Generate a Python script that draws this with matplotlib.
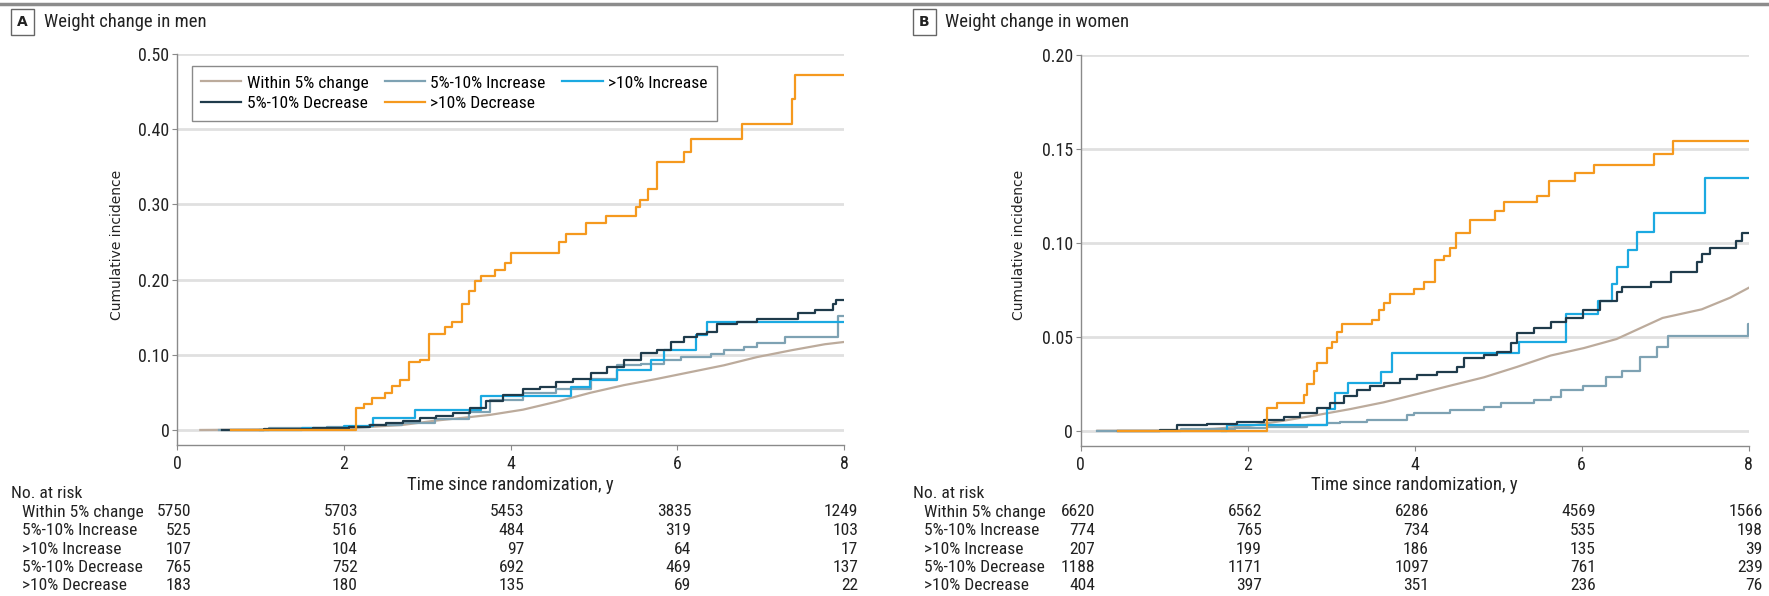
import matplotlib
matplotlib.use('Agg')
import matplotlib.pyplot as plt
from matplotlib import font_manager
from matplotlib.transforms import blended_transform_factory
from matplotlib.lines import Line2D

# ---------------- font choice (prefer a condensed face) ----------------
_fl = font_manager.fontManager.ttflist
_names = {f.name for f in _fl}
FAM, STRETCH = 'DejaVu Sans', 'normal'
for cand in ['Liberation Sans Narrow', 'Roboto Condensed', 'Open Sans Condensed']:
    if cand in _names:
        FAM = cand
        break
else:
    cond = [f for f in _fl if f.name == 'DejaVu Sans' and str(f.stretch) not in ('normal', '500')]
    if cond:
        FAM, STRETCH = 'DejaVu Sans', cond[0].stretch
    elif 'Roboto' in _names:
        FAM = 'Roboto'
plt.rcParams['font.family'] = [FAM, 'DejaVu Sans']
plt.rcParams['font.stretch'] = STRETCH

# ---------------- data ----------------
series_names = ['Within 5% change', '5%-10% Increase', '>10% Increase',
                '5%-10% Decrease', '>10% Decrease']
risk_times = [0, 2, 4, 6, 8]

# Men
men_within_t = [0.28, 1.0, 1.5, 2.0, 2.3, 2.7, 3.1, 3.5, 3.75, 4.15, 4.55, 4.96, 5.36, 5.76, 6.16, 6.56, 6.96, 7.37, 7.77, 8.0]
men_within_v = [0, 0.0005, 0.001, 0.002, 0.004, 0.0066, 0.0124, 0.017, 0.020, 0.027, 0.0375, 0.0495, 0.0596, 0.068, 0.077, 0.086, 0.097, 0.106, 0.114, 0.117]

men_inc5_t = [0.5, 1.1, 1.8, 2.3, 2.7, 3.1, 3.5, 3.75, 4.15, 4.55, 4.96, 5.28, 5.56, 5.84, 6.04, 6.40, 6.56, 6.80, 6.96, 7.29, 7.93, 8.0]
men_inc5_v = [0, 0.002, 0.004, 0.006, 0.009, 0.015, 0.024, 0.04, 0.0486, 0.055, 0.068, 0.086, 0.088, 0.093, 0.097, 0.1015, 0.106, 0.11, 0.115, 0.124, 0.152, 0.152]

men_inc10_t = [1.0, 1.5, 2.0, 2.35, 2.85, 3.65, 4.73, 4.95, 5.28, 5.68, 5.84, 6.22, 6.36, 8.0]
men_inc10_v = [0, 0.002, 0.005, 0.016, 0.027, 0.045, 0.057, 0.067, 0.08, 0.093, 0.106, 0.126, 0.144, 0.144]

men_dec5_t = [0.54, 1.04, 1.63, 2.06, 2.31, 2.51, 2.71, 2.91, 3.11, 3.31, 3.51, 3.71, 3.91, 4.15, 4.35, 4.55, 4.75, 4.96, 5.16, 5.36, 5.56, 5.76, 5.92, 6.08, 6.24, 6.36, 6.48, 6.72, 6.96, 7.45, 7.65, 7.87, 7.91, 8.0]
men_dec5_v = [0, 0.001, 0.003, 0.004, 0.0066, 0.0097, 0.012, 0.0155, 0.019, 0.022, 0.029, 0.038, 0.047, 0.054, 0.057, 0.064, 0.068, 0.076, 0.084, 0.093, 0.102, 0.106, 0.117, 0.124, 0.128, 0.13, 0.141, 0.143, 0.148, 0.155, 0.159, 0.168, 0.173, 0.173]

men_dec10_t = [0.65, 2.15, 2.24, 2.34, 2.5, 2.58, 2.68, 2.78, 2.92, 3.02, 3.22, 3.3, 3.42, 3.5, 3.58, 3.65, 3.82, 3.93, 4.01, 4.58, 4.66, 4.9, 5.15, 5.5, 5.55, 5.65, 5.76, 6.08, 6.17, 6.78, 7.38, 7.41, 8.0]
men_dec10_v = [0, 0.029, 0.034, 0.043, 0.049, 0.058, 0.067, 0.091, 0.093, 0.128, 0.137, 0.144, 0.168, 0.185, 0.198, 0.205, 0.213, 0.222, 0.235, 0.25, 0.26, 0.275, 0.285, 0.297, 0.306, 0.32, 0.356, 0.37, 0.387, 0.407, 0.44, 0.472, 0.472]

men_risk = [[5750, 5703, 5453, 3835, 1249],
            [525, 516, 484, 319, 103],
            [107, 104, 97, 64, 17],
            [765, 752, 692, 469, 137],
            [183, 180, 135, 69, 22]]

# Women
wom_within_t = [0.2, 1.0, 1.6, 2.03, 2.43, 2.83, 3.23, 3.63, 4.03, 4.43, 4.83, 5.23, 5.63, 6.03, 6.42, 6.97, 7.44, 7.78, 8.0]
wom_within_v = [0, 0.0, 0.001, 0.0026, 0.0053, 0.0083, 0.0115, 0.0151, 0.0195, 0.024, 0.0284, 0.034, 0.040, 0.044, 0.0488, 0.060, 0.0646, 0.0708, 0.076]

wom_inc5_t = [0.2, 1.2, 1.85, 2.23, 2.71, 2.95, 3.11, 3.43, 3.91, 3.99, 4.43, 4.83, 5.03, 5.43, 5.63, 5.75, 6.02, 6.29, 6.49, 6.7, 6.9, 7.04, 7.99, 8.0]
wom_inc5_v = [0, 0.0008, 0.0012, 0.0021, 0.003, 0.0042, 0.0048, 0.0057, 0.0083, 0.0092, 0.011, 0.0128, 0.0145, 0.0163, 0.018, 0.0215, 0.024, 0.0285, 0.032, 0.039, 0.0444, 0.0505, 0.0567, 0.0567]

wom_inc10_t = [1.69, 1.75, 2.95, 3.05, 3.2, 3.6, 3.73, 5.25, 5.81, 6.2, 6.36, 6.42, 6.56, 6.66, 6.87, 7.48, 8.0]
wom_inc10_v = [0, 0.003, 0.0115, 0.02, 0.0252, 0.0314, 0.0415, 0.047, 0.062, 0.069, 0.078, 0.087, 0.096, 0.106, 0.116, 0.1345, 0.1345]

wom_dec5_t = [0.45, 0.95, 1.15, 1.51, 1.87, 2.19, 2.43, 2.63, 2.83, 2.99, 3.15, 3.31, 3.47, 3.63, 3.83, 4.03, 4.27, 4.51, 4.59, 4.83, 4.99, 5.15, 5.23, 5.43, 5.63, 5.81, 6.02, 6.22, 6.42, 6.49, 6.83, 7.07, 7.38, 7.44, 7.54, 7.85, 7.92, 8.0]
wom_dec5_v = [0, 0.0005, 0.0028, 0.0037, 0.0044, 0.0058, 0.0073, 0.0094, 0.012, 0.0147, 0.0182, 0.0218, 0.024, 0.0252, 0.0273, 0.0296, 0.0314, 0.034, 0.0385, 0.0403, 0.042, 0.0465, 0.052, 0.0549, 0.0576, 0.060, 0.064, 0.069, 0.074, 0.0763, 0.079, 0.0843, 0.0897, 0.094, 0.097, 0.101, 0.105, 0.105]

wom_dec10_t = [0.45, 2.23, 2.35, 2.67, 2.71, 2.79, 2.83, 2.95, 3.01, 3.07, 3.13, 3.49, 3.57, 3.63, 3.71, 3.99, 4.11, 4.25, 4.35, 4.42, 4.49, 4.66, 4.96, 5.07, 5.47, 5.61, 5.92, 6.15, 6.87, 7.10, 8.0]
wom_dec10_v = [0, 0.012, 0.0146, 0.019, 0.025, 0.032, 0.036, 0.044, 0.047, 0.0525, 0.057, 0.059, 0.0645, 0.068, 0.073, 0.0756, 0.079, 0.0906, 0.0932, 0.097, 0.105, 0.112, 0.117, 0.122, 0.125, 0.133, 0.137, 0.1416, 0.1475, 0.154, 0.154]

wom_risk = [[6620, 6562, 6286, 4569, 1566],
            [774, 765, 734, 535, 198],
            [207, 199, 186, 135, 39],
            [1188, 1171, 1097, 761, 239],
            [404, 397, 351, 236, 76]]

men_yticks = [0, 0.10, 0.20, 0.30, 0.40, 0.50]
men_ytick_labels = ['0', '0.10', '0.20', '0.30', '0.40', '0.50']
wom_yticks = [0, 0.05, 0.10, 0.15, 0.20]
wom_ytick_labels = ['0', '0.05', '0.10', '0.15', '0.20']
xticks = [0, 2, 4, 6, 8]

colors = ['#bcab9c', '#7ea2b3', '#1ba9e1', '#1f3b4b', '#f5991e']

# ---------------- figure ----------------
W, H = 1769, 596
fig = plt.figure(figsize=(W / 100, H / 100), dpi=100)
TXT = '#222222'
SPINE = '#8a8a8a'
_renderer = fig.canvas.get_renderer()


def fit_size(s, target_px, base=12.0, lo=8.0, hi=14.0):
    t = fig.text(0, 0, s, fontsize=base)
    w = t.get_window_extent(renderer=_renderer).width
    t.remove()
    return max(lo, min(hi, base * target_px / max(w, 1)))


FS_TAB = fit_size('Within 5% change', 121)
FS_TITLE = fit_size('Weight change in men', 162)
FS_XLAB = fit_size('Time since randomization, y', 206)
FS_TICK = fit_size('0.50', 31)

fig.add_artist(Line2D([0, 1], [1 - 3.5 / H] * 2, transform=fig.transFigure,
                      color='#8c8c8c', lw=2.5))


def make_panel(left_px, right_px, top_px, bot_px, ylim, yticks, ylabels,
               curves, risk, letter, title, box_px, title_px, ylab_px,
               noat_px, rowlab_px, legend=False):
    ax = fig.add_axes([left_px / W, 1 - bot_px / H, (right_px - left_px) / W,
                       (bot_px - top_px) / H])
    ax.set_xlim(0, 8)
    ax.set_ylim(*ylim)
    for y in yticks:
        ax.plot([0, 8], [y, y], color='#e0e0e0', lw=2, zorder=0, solid_capstyle='butt')
    handles = {}
    for i, (t, v) in enumerate(curves):
        if i == 0:
            h, = ax.plot(t, v, color=colors[i], lw=1.6, zorder=2)
        else:
            h, = ax.step(t, v, where='post', color=colors[i], lw=1.6, zorder=2 + i)
        handles[i] = h
    for s in ['top', 'right']:
        ax.spines[s].set_visible(False)
    for s in ['left', 'bottom']:
        ax.spines[s].set_color(SPINE)
        ax.spines[s].set_linewidth(1.0)
    ax.set_yticks(yticks)
    ax.set_yticklabels(ylabels)
    ax.set_xticks(xticks)
    ax.set_xticklabels([str(x) for x in xticks])
    ax.tick_params(axis='both', direction='out', length=3.5, width=0.8,
                   color=SPINE, labelsize=FS_TICK, labelcolor=TXT)
    ax.tick_params(axis='y', pad=2)
    ax.tick_params(axis='x', pad=4)
    # panel letter + title
    fig.text(box_px / W, 1 - 22 / H, letter, fontsize=10, fontweight='bold',
             family='DejaVu Sans', color=TXT, ha='center', va='center',
             bbox=dict(boxstyle='square,pad=0.45', fc='white', ec='#666666', lw=1))
    fig.text(title_px / W, 1 - 22 / H, title, fontsize=FS_TITLE, color=TXT,
             ha='left', va='center')
    fig.text(ylab_px / W, 1 - 245 / H, 'Cumulative incidence', rotation=90,
             fontsize=10, family='DejaVu Sans', color=TXT, ha='center', va='center')
    tr = blended_transform_factory(ax.transData, fig.transFigure)
    fig.text(4, 1 - 485 / H, 'Time since randomization, y', transform=tr,
             fontsize=FS_XLAB, color=TXT, ha='center', va='center')
    fig.text(noat_px / W, 1 - 493 / H, 'No. at risk', fontsize=FS_TAB, color=TXT,
             ha='left', va='center')
    row_y = [512, 530.5, 549, 567.5, 586]
    for r, name in enumerate(series_names):
        fig.text(rowlab_px / W, 1 - row_y[r] / H, name, fontsize=FS_TAB, color=TXT,
                 ha='left', va='center')
        for c, tt in enumerate(risk_times):
            fig.text(tt + 0.17, 1 - row_y[r] / H, str(risk[r][c]), transform=tr,
                     fontsize=FS_TAB, color=TXT, ha='right', va='center')
    if legend:
        order = [0, 3, 1, 4, 2]
        ax.legend([handles[i] for i in order], [series_names[i] for i in order],
                  ncol=3, loc='upper left', bbox_to_anchor=(0.022, 0.97),
                  frameon=True, fancybox=False, edgecolor='#8a8a8a', framealpha=1,
                  fontsize=FS_TAB, handlelength=2.3, handletextpad=0.3,
                  columnspacing=0.95, labelspacing=0.3, borderpad=0.55,
                  borderaxespad=0)
    return ax


men_curves = [(men_within_t, men_within_v), (men_inc5_t, men_inc5_v),
              (men_inc10_t, men_inc10_v), (men_dec5_t, men_dec5_v),
              (men_dec10_t, men_dec10_v)]
wom_curves = [(wom_within_t, wom_within_v), (wom_inc5_t, wom_inc5_v),
              (wom_inc10_t, wom_inc10_v), (wom_dec5_t, wom_dec5_v),
              (wom_dec10_t, wom_dec10_v)]

make_panel(177, 844, 54, 445, (-0.02, 0.5), men_yticks, men_ytick_labels,
           men_curves, men_risk, 'A', 'Weight change in men',
           22.5, 44, 117, 11, 22.5, legend=True)
make_panel(1080.7, 1748.5, 55, 445.7, (-0.008, 0.2), wom_yticks, wom_ytick_labels,
           wom_curves, wom_risk, 'B', 'Weight change in women',
           924.5, 945, 1019, 913, 924)

fig.savefig('out.png', dpi=100)
